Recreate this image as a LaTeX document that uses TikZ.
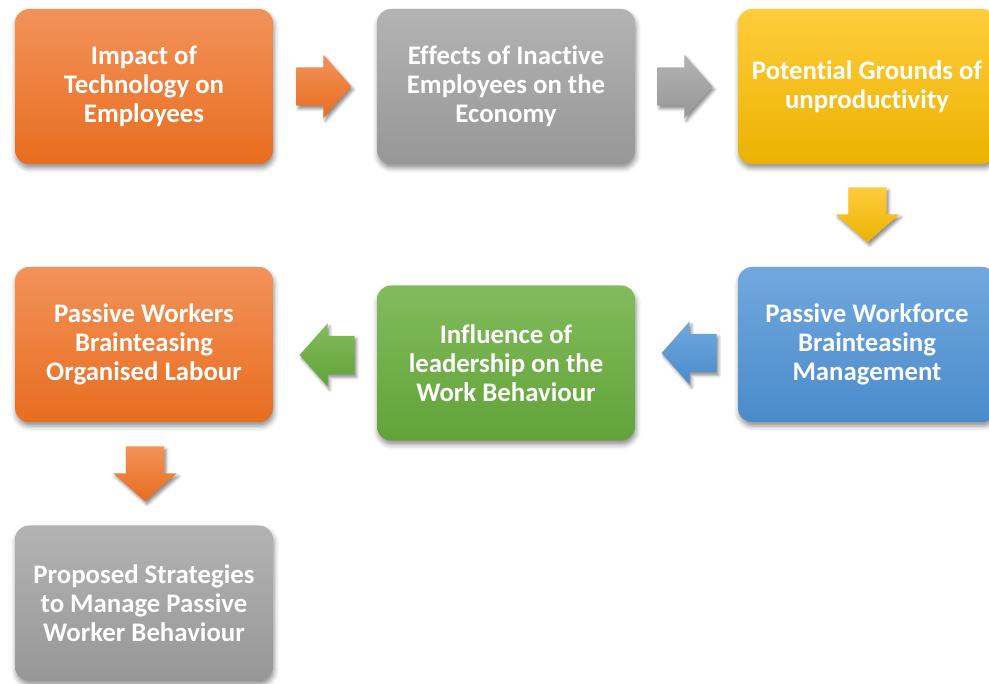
\documentclass[tikz,border=0pt]{standalone}
\usepackage{fontspec}
\setmainfont{Carlito}[Ligatures=NoCommon]
\usetikzlibrary{calc}
\usetikzlibrary{shapes.arrows}
\usetikzlibrary{shadows.blur}

\definecolor{orangetop}{HTML}{F3925A}
\definecolor{orangebot}{HTML}{E86D1F}
\definecolor{graytop}{HTML}{B3B3B3}
\definecolor{graybot}{HTML}{979797}
\definecolor{yellowtop}{HTML}{FFCD3C}
\definecolor{yellowbot}{HTML}{ECB200}
\definecolor{bluetop}{HTML}{71A8DE}
\definecolor{bluebot}{HTML}{4A8BCB}
\definecolor{greentop}{HTML}{82BB5C}
\definecolor{greenbot}{HTML}{62A339}

\tikzset{
    stagebox/.style={rectangle, rounded corners=14pt, minimum width=258pt, minimum height=155pt,
        inner sep=0pt, align=center, text=white,
        font=\fontsize{26.8}{29}\selectfont\bfseries,
        blur shadow={shadow xshift=1pt, shadow yshift=-4pt, shadow blur radius=5pt, shadow opacity=45}},
    blockarrow/.style={single arrow, anchor=tail, minimum height=55pt, inner xsep=0pt, inner ysep=19pt,
        single arrow head extend=12.5pt, single arrow tip angle=97,
        blur shadow={shadow xshift=2pt, shadow yshift=-3pt, shadow blur radius=3pt, shadow opacity=45}},
    downarrow/.style={blockarrow, shape border rotate=270, inner xsep=19pt, inner ysep=0pt},
    orangefill/.style={top color=orangetop, bottom color=orangebot},
    grayfill/.style={top color=graytop, bottom color=graybot},
    yellowfill/.style={top color=yellowtop, bottom color=yellowbot},
    bluefill/.style={top color=bluetop, bottom color=bluebot},
    greenfill/.style={top color=greentop, bottom color=greenbot}
}

\begin{document}
\begin{tikzpicture}[x=1pt, y=-1pt]
            \useasboundingbox (0, 0) rectangle (989, 684);
            \node[stagebox, orangefill] (impact) at (144, 86.5) {Impact of\\Technology on\\Employees};
            \node[stagebox, grayfill] (effects) at (506, 86.5) {Effects of Inactive\\Employees on the\\Economy};
            \node[stagebox, yellowfill] (grounds) at (867, 86.5) {Potential Grounds of\\unproductivity};
            \node[stagebox, bluefill] (workforce) at (867, 344.5) {Passive Workforce\\Brainteasing\\Management};
            \node[stagebox, greenfill] (leadership) at (506, 363) {Influence of\\leadership on the\\Work Behaviour};
            \node[stagebox, orangefill] (labour) at (144, 344.5) {Passive Workers\\Brainteasing\\Organised Labour};
            \node[stagebox, grayfill] (strategies) at (144, 603) {Proposed Strategies\\to Manage Passive\\Worker Behaviour};

            \node[blockarrow, orangefill] (a1) at ($(impact.east)+(23, 0)$) {};
            \node[blockarrow, grayfill] (a2) at ($(effects.east)+(22, 0)$) {};
            \node[downarrow, yellowfill] (a3) at ($(grounds.south)+(0.5, 23)$) {};
            \node[blockarrow, bluefill, shape border rotate=182] (a4) at ($(workforce.west)+(-21, 8.5)$) {};
            \node[blockarrow, greenfill, shape border rotate=177] (a5) at ($(leadership.west)+(-22, -8)$) {};
            \node[downarrow, orangefill] (a6) at ($(labour.south)+(1, 24)$) {};
        \end{tikzpicture}
\end{document}
